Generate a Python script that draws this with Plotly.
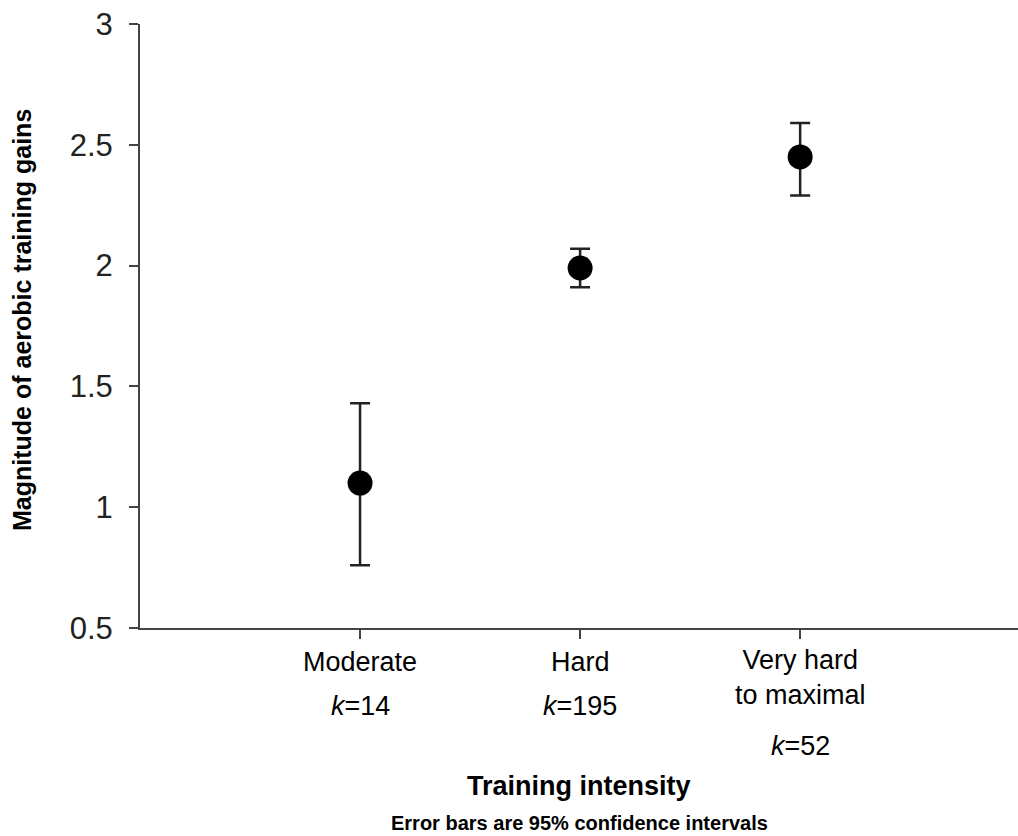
import plotly.graph_objects as go

# ---- data ----
categories = ["Moderate", "Hard", "Very hard<br>to maximal"]
cat_pos = [1, 2, 3]
k_values = [14, 195, 52]
means = [1.10, 1.99, 2.45]
ci_low = [0.76, 1.91, 2.29]
ci_high = [1.43, 2.07, 2.59]
y_ticks = [0.5, 1, 1.5, 2, 2.5, 3]
y_ticktext = ["0.5", "1", "1.5", "2", "2.5", "3"]

err_plus = [h - m for h, m in zip(ci_high, means)]
err_minus = [m - l for m, l in zip(means, ci_low)]

FONT = "Liberation Sans, Arial, sans-serif"

fig = go.Figure()
fig.add_trace(go.Scatter(
    x=cat_pos, y=means, mode="markers",
    marker=dict(size=25, color="#000000"),
    error_y=dict(type="data", symmetric=False, array=err_plus, arrayminus=err_minus,
                 color="#222222", thickness=2.5, width=10),
    showlegend=False, hoverinfo="skip",
))

annotations = []
cat_shift = [-34, -34, -49]
k_shift = [-78, -78, -118]
for x, c, s in zip(cat_pos, categories, cat_shift):
    annotations.append(dict(x=x, y=0, xref="x", yref="paper", text=c, showarrow=False,
                            xanchor="center", yanchor="middle", yshift=s,
                            font=dict(family=FONT, size=27, color="#000")))
for x, k, s in zip(cat_pos, k_values, k_shift):
    annotations.append(dict(x=x, y=0, xref="x", yref="paper", text=f"<i>k</i>={k}", showarrow=False,
                            xanchor="center", yanchor="middle", yshift=s,
                            font=dict(family=FONT, size=27, color="#000")))
annotations.append(dict(x=0.5, y=0, xref="paper", yref="paper", text="<b>Training intensity</b>",
                        showarrow=False, xanchor="center", yanchor="middle", yshift=-158,
                        font=dict(family=FONT, size=27, color="#000")))
annotations.append(dict(x=0.5, y=0, xref="paper", yref="paper",
                        text="<b>Error bars are 95% confidence intervals</b>",
                        showarrow=False, xanchor="center", yanchor="middle", yshift=-195,
                        font=dict(family="Liberation Sans Narrow, " + FONT, size=20, color="#000")))
annotations.append(dict(x=0, y=0.51, xref="paper", yref="paper",
                        text="<b>Magnitude of aerobic training gains</b>", textangle=-90,
                        showarrow=False, xanchor="center", yanchor="middle", xshift=-118,
                        font=dict(family=FONT, size=25, color="#000")))

fig.update_layout(
    width=1018, height=836,
    margin=dict(l=140, r=0, t=24, b=208),
    paper_bgcolor="white", plot_bgcolor="white",
    annotations=annotations,
    xaxis=dict(range=[0, 3.99], tickvals=cat_pos, ticktext=["", "", ""],
               ticks="outside", ticklen=9, tickwidth=2, tickcolor="#444",
               showline=True, linecolor="#444", linewidth=2,
               showgrid=False, zeroline=False, fixedrange=True),
    yaxis=dict(range=[0.5, 3], tickvals=y_ticks, ticktext=y_ticktext,
               ticks="outside", ticklen=9, tickwidth=2, tickcolor="#444",
               showline=True, linecolor="#444", linewidth=2,
               showgrid=False, zeroline=False, fixedrange=True,
               tickfont=dict(family=FONT, size=31, color="#222"), ticklabelstandoff=10),
)

fig.write_html("out.html", config={"displayModeBar": False})
